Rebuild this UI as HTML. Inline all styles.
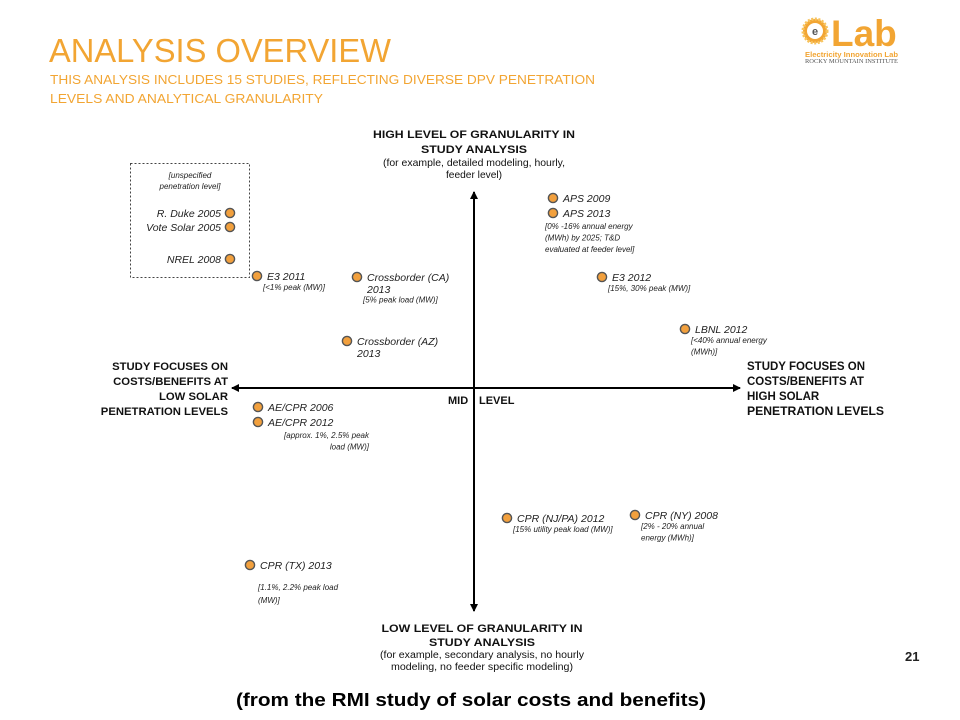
<!DOCTYPE html>
<html><head><meta charset="utf-8">
<style>
body{margin:0;background:#fff;width:960px;height:720px;overflow:hidden;font-family:"Liberation Sans",sans-serif}
svg{display:block}
</style></head><body>
<svg id="chart" width="960" height="720" viewBox="0 0 960 720" font-family="Liberation Sans, sans-serif">
<text x="49" y="62" font-size="33" fill="#f2a533" textLength="342" lengthAdjust="spacingAndGlyphs">ANALYSIS OVERVIEW</text>
<text x="50" y="84" font-size="13" fill="#f2a533" textLength="545" lengthAdjust="spacingAndGlyphs">THIS ANALYSIS INCLUDES 15 STUDIES, REFLECTING DIVERSE DPV PENETRATION</text>
<text x="50" y="103" font-size="13" fill="#f2a533" textLength="273" lengthAdjust="spacingAndGlyphs">LEVELS AND ANALYTICAL GRANULARITY</text>
<g>
<circle cx="815" cy="31" r="12" fill="#f2a533" stroke="#f7c35c" stroke-width="3" stroke-dasharray="2 1.5"/>
<circle cx="815" cy="31" r="8" fill="#fff"/>
<text x="815" y="35" font-size="11" font-weight="bold" fill="#555" text-anchor="middle">e</text>
<text x="831" y="46" font-size="37" font-weight="bold" fill="#f2a533">Lab</text>
<text x="805" y="57" font-size="7.5" font-weight="bold" fill="#f2a533" textLength="93" lengthAdjust="spacingAndGlyphs">Electricity Innovation Lab</text>
<text x="805" y="63" font-size="6" fill="#555" textLength="93" lengthAdjust="spacingAndGlyphs" font-family="Liberation Serif, serif">ROCKY MOUNTAIN INSTITUTE</text>
</g>
<rect x="130.5" y="163.5" width="119" height="114" fill="none" stroke="#444" stroke-width="1" stroke-dasharray="2 2"/>
<text x="190" y="178" font-size="8" font-style="italic" fill="#222" text-anchor="middle">[unspecified</text>
<text x="190" y="189" font-size="8" font-style="italic" fill="#222" text-anchor="middle">penetration level]</text>
<defs><marker id="ah" markerWidth="8" markerHeight="8" refX="7" refY="4" orient="auto" markerUnits="userSpaceOnUse"><path d="M0,0 L8,4 L0,8 Z" fill="#000"/></marker></defs>
<line x1="474" y1="600" x2="474" y2="192" stroke="#000" stroke-width="2" marker-end="url(#ah)"/>
<line x1="474" y1="380" x2="474" y2="611" stroke="#000" stroke-width="2" marker-end="url(#ah)"/>
<line x1="474" y1="388" x2="740" y2="388" stroke="#000" stroke-width="2" marker-end="url(#ah)"/>
<line x1="480" y1="388" x2="232" y2="388" stroke="#000" stroke-width="2" marker-end="url(#ah)"/>
<g text-anchor="middle" fill="#111">
<text x="474" y="138" font-size="11" font-weight="bold" textLength="202" lengthAdjust="spacingAndGlyphs">HIGH LEVEL OF GRANULARITY IN</text>
<text x="474" y="153" font-size="11" font-weight="bold" textLength="106" lengthAdjust="spacingAndGlyphs">STUDY ANALYSIS</text>
<text x="474" y="166" font-size="10.2" textLength="182" lengthAdjust="spacingAndGlyphs">(for example, detailed modeling, hourly,</text>
<text x="474" y="178" font-size="10.2">feeder level)</text>
</g>
<g text-anchor="middle" fill="#111">
<text x="482" y="632" font-size="11" font-weight="bold" textLength="201" lengthAdjust="spacingAndGlyphs">LOW LEVEL OF GRANULARITY IN</text>
<text x="482" y="646" font-size="11" font-weight="bold" textLength="106" lengthAdjust="spacingAndGlyphs">STUDY ANALYSIS</text>
<text x="482" y="658" font-size="10" textLength="204" lengthAdjust="spacingAndGlyphs">(for example, secondary analysis, no hourly</text>
<text x="482" y="670" font-size="10" textLength="182" lengthAdjust="spacingAndGlyphs">modeling, no feeder specific modeling)</text>
</g>
<g text-anchor="end" fill="#111" font-size="11.3" font-weight="bold">
<text x="228" y="370">STUDY FOCUSES ON</text><text x="228" y="385">COSTS/BENEFITS AT</text><text x="228" y="400">LOW SOLAR</text><text x="228" y="415">PENETRATION LEVELS</text>
</g>
<g fill="#111" font-size="11.5" font-weight="bold">
<text x="747" y="370">STUDY FOCUSES ON</text><text x="747" y="385">COSTS/BENEFITS AT</text><text x="747" y="400">HIGH SOLAR</text><text x="747" y="415" textLength="137" lengthAdjust="spacingAndGlyphs">PENETRATION LEVELS</text>
</g>
<text x="448" y="404" font-size="11" font-weight="bold" fill="#111">MID</text>
<text x="479" y="404" font-size="11" font-weight="bold" fill="#111">LEVEL</text>
<g id="points"></g>
<text x="905" y="661" font-size="13" font-weight="bold" fill="#222">21</text>
<text x="471" y="706" font-size="18.5" font-weight="bold" fill="#000" text-anchor="middle" textLength="470" lengthAdjust="spacingAndGlyphs">(from the RMI study of solar costs and benefits)</text>
</svg>
<script>
const studies=["R. Duke 2005","Vote Solar 2005","NREL 2008","E3 2011","Crossborder (CA)","Crossborder (AZ)","APS 2009","APS 2013","E3 2012","LBNL 2012","AE/CPR 2006","AE/CPR 2012","CPR (NJ/PA) 2012","CPR (NY) 2008","CPR (TX) 2013"];
const penetration=[-0.976,-0.976,-0.976,-0.868,-0.468,-0.508,0.316,0.316,0.512,0.844,-0.864,-0.864,0.132,0.644,-0.896];
const granularity=[0.875,0.805,0.645,0.56,0.555,0.235,0.95,0.875,0.555,0.295,-0.095,-0.17,-0.65,-0.635,-0.885];
const notes=["","","","[<1% peak (MW)]","2013|[5% peak load (MW)]","2013","","[0% -16% annual energy|(MWh) by 2025; T&D|evaluated at feeder level]","[15%, 30% peak (MW)]","[<40% annual energy|(MWh)]","","[approx. 1%, 2.5% peak|load (MW)]","[15% utility peak load (MW)]","[2% - 20% annual|energy (MWh)]","|[1.1%, 2.2% peak load|(MW)]"];
const cx=474,cy=388,hw=250,hh=200;
function xS(v){return cx+v*hw;}
function yS(v){return cy-v*hh;}
const g=document.getElementById('points');
const NS="http://www.w3.org/2000/svg";
function txt(x,y,s,size,anchor){const t=document.createElementNS(NS,'text');t.setAttribute('x',x);t.setAttribute('y',y);t.setAttribute('font-size',size);t.setAttribute('font-style','italic');t.setAttribute('fill','#222');if(anchor)t.setAttribute('text-anchor',anchor);t.textContent=s;return t;}
studies.forEach((name,i)=>{
  const x=xS(penetration[i]),y=yS(granularity[i]);
  const grp=document.createElementNS(NS,'g');
  
  
  const c=document.createElementNS(NS,'circle');
  c.setAttribute('cx',x);c.setAttribute('cy',y);c.setAttribute('r',4.6);
  c.setAttribute('fill','#f2a03d');c.setAttribute('stroke','#555');c.setAttribute('stroke-width',1.4);
  
  
  grp.appendChild(c);
  const left=i<3;
  const lt=txt(left?x-9:x+10,y+4,name,10.5,left?'end':null);
  
  
  grp.appendChild(lt);
  if(notes[i]){
    const lines=notes[i].split('|');
    let nx=x+6,ny=y+14,ls=11.5,size=8,anchor=null;
    if(name.startsWith('Crossborder')){nx=x+10;ny=y+16;}
    if(i===7){nx=x-8;ny=y+16;}
    if(i===11){nx=x+111;ny=y+16;anchor='end';}
    if(i===14){nx=x+8;ny=y+12;ls=13;}
    lines.forEach((ln,k)=>{
      const isYear=ln==='2013';
      const t=txt(nx,ny+k*ls,ln,isYear?10.5:size,anchor);
      if(name.startsWith('Crossborder')&&k===1){t.setAttribute('x',x+6);t.setAttribute('y',ny+k*ls-2);}
      
      
      grp.appendChild(t);
    });
  }
  g.appendChild(grp);
});
</script>
</body></html>
